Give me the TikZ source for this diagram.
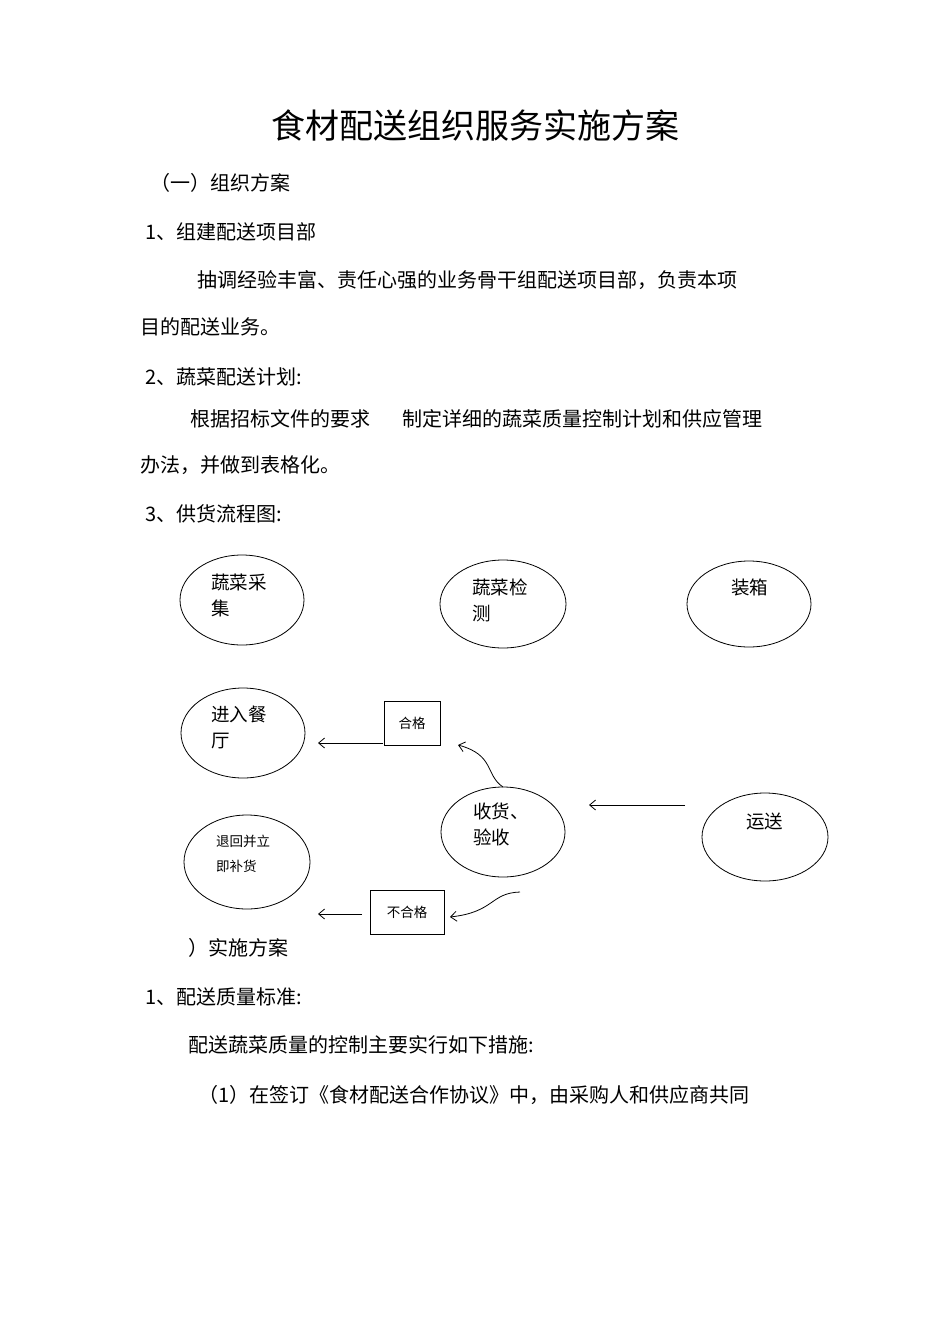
\documentclass[tikz,border=0pt]{standalone}
\usepackage{fontspec}
\setmainfont{Noto Sans CJK SC}
\begin{document}
\begin{tikzpicture}[x=1pt,y=-1pt,
  txt/.style={anchor=west,inner sep=0pt,font=\fontsize{20}{24}\selectfont},
  etxt/.style={anchor=north west,inner sep=0pt,align=left,font=\fontsize{18.5}{26}\selectfont},
  ell/.style={draw,thick},
  box/.style={draw,thick,minimum width=#1,minimum height=44pt,inner sep=0pt,font=\fontsize{13.5}{15}\selectfont},
  arr/.style={draw,thick,->,>={Straight Barb[length=6pt,width=10pt]}}]
\usetikzlibrary{arrows.meta}
\useasboundingbox (0,0) rectangle (950,1344);
\node[inner sep=0pt,font=\fontsize{34}{38}\selectfont] (title) at (475,125) {食材配送组织服务实施方案};
\node[txt] (t1) at (150,183) {（一）组织方案};
\node[txt] (t2) at (145,232) {1、组建配送项目部};
\node[txt] (t3) at (197,280) {抽调经验丰富、责任心强的业务骨干组配送项目部，负责本项};
\node[txt] (t4) at (140,327) {目的配送业务。};
\node[txt] (t5) at (145,377) {2、蔬菜配送计划:};
\node[txt] (t6) at (190,419) {根据招标文件的要求\hspace{32pt}制定详细的蔬菜质量控制计划和供应管理};
\node[txt] (t7) at (140,465) {办法，并做到表格化。};
\node[txt] (t8) at (145,514) {3、供货流程图:};
\node[txt] (t9) at (188,948) {）实施方案};
\node[txt] (t10) at (145,997) {1、配送质量标准:};
\node[txt] (t11) at (188,1045) {配送蔬菜质量的控制主要实行如下措施:};
\node[txt] (t12) at (198,1095) {（1）在签订《食材配送合作协议》中，由采购人和供应商共同};

% ellipses
\draw[ell] (242,600) ellipse [x radius=62,y radius=45];
\node[etxt] (e1) at (211,574) {蔬菜采\\集};
\draw[ell] (503,604) ellipse [x radius=63,y radius=44];
\node[etxt] (e2) at (472,579) {蔬菜检\\测};
\draw[ell] (749,604) ellipse [x radius=62,y radius=43];
\node[etxt] (e3) at (731,579) {装箱};
\draw[ell] (243,733) ellipse [x radius=62,y radius=45];
\node[etxt] (e4) at (211,706) {进入餐\\厅};
\coordinate (rc) at (503,832);
\draw[ell] (rc) ellipse [x radius=62,y radius=45];
\node[etxt] (e5) at (473,803) {收货、\\验收};
\draw[ell] (765,837) ellipse [x radius=63,y radius=44];
\node[etxt] (e6) at (746,813) {运送};
\draw[ell] (247,862) ellipse [x radius=63,y radius=47];
\node[etxt,font=\fontsize{13.5}{25}\selectfont] (e7) at (216,835) {退回并立\\即补货};

\node[box=56pt] (ok) at (412,723) {合格};
\node[box=74pt] (ng) at (407,912) {不合格};

\coordinate (a1s) at (383,743); \coordinate (a1e) at (318,743);
\draw[arr] (a1s) -- (a1e);
\coordinate (a2s) at (685,805); \coordinate (a2e) at (589,805);
\draw[arr] (a2s) -- (a2e);
\coordinate (a3s) at (362,914); \coordinate (a3e) at (318,914);
\draw[arr] (a3s) -- (a3e);
\coordinate (c1s) at (503,787); \coordinate (c1e) at (458,745);
\draw[arr] (c1s) .. controls (485,775) and (495,755) .. (c1e);
\coordinate (c2s) at (520,892); \coordinate (c2e) at (450,917);
\draw[arr] (c2s) .. controls (490,893) and (495,912) .. (c2e);
\end{tikzpicture}
\end{document}
